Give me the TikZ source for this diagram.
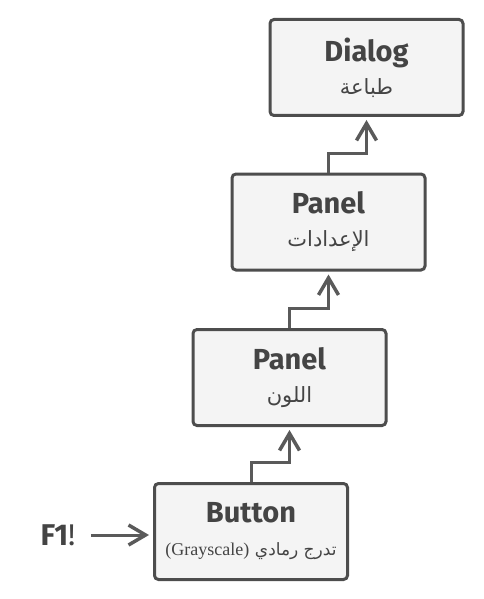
\documentclass[tikz,border=0pt]{standalone}
\usepackage{fontspec}
\setmainfont{Fira Sans}
\newfontfamily\arabicfont[Script=Arabic]{DejaVu Sans}
\newfontfamily\serifpart{Liberation Serif}
\TeXXeTstate=1
\usetikzlibrary{arrows.meta, positioning}

\definecolor{boxline}{HTML}{4D4D4D}
\definecolor{boxfill}{HTML}{F4F4F4}
\definecolor{arrowgray}{HTML}{5A5A5A}
\definecolor{textgray}{HTML}{444444}

\newcommand{\handlertext}[2]{\textbf{#1}\\[3pt]{\fontsize{21}{22}\selectfont #2}}

\begin{document}
\begin{tikzpicture}[x=1pt, y=-1pt,
                handler/.style={draw=boxline, fill=boxfill, line width=3pt, rounded corners=4pt,
                                minimum width=193pt, minimum height=96pt, inner sep=0pt,
                                align=center, text=textgray, font=\fontsize{29}{30}\selectfont},
                pass/.style={-{Straight Barb[length=17pt, width=20pt, line width=3.5pt]},
                             line width=3pt, draw=arrowgray}]

                % fixed margins
                \useasboundingbox (0,0) rectangle (483,599);

                % Chain of handlers - bottom to top
                \node[handler] (button) at (251,531.5) {\handlertext{Button}{{\fontsize{18}{22}\selectfont\serifpart (Grayscale)} {\fontsize{17}{22}\selectfont\arabicfont\beginR تدرج رمادي\endR}}};
                \node[handler] (color) at (289.5,377.5) {\handlertext{Panel}{\arabicfont\beginR اللون\endR}};
                \node[handler] (settings) at (328.5,222) {\handlertext{Panel}{\arabicfont\beginR الإعدادات\endR}};
                \node[handler] (dialog) at (366.5,67.5) {\handlertext{Dialog}{\arabicfont\beginR طباعة\endR}};

                % Key press
                \node[font=\fontsize{30}{30}\selectfont, text=textgray] (key) at (58,535) {\textbf{F1}!};

                % Passing the request up
                \draw[pass, shorten <=12pt, shorten >=4pt] (key.east) -- (key.east -| button.west);
                \draw[pass, shorten >=3pt] (button.north) -- ++(0,-20) -| (color.south);
                \draw[pass, shorten >=3pt] (color.north) -- ++(0,-20) -| (settings.south);
                \draw[pass, shorten >=3pt] (settings.north) -- ++(0,-19) -| (dialog.south);
            \end{tikzpicture}
\end{document}
